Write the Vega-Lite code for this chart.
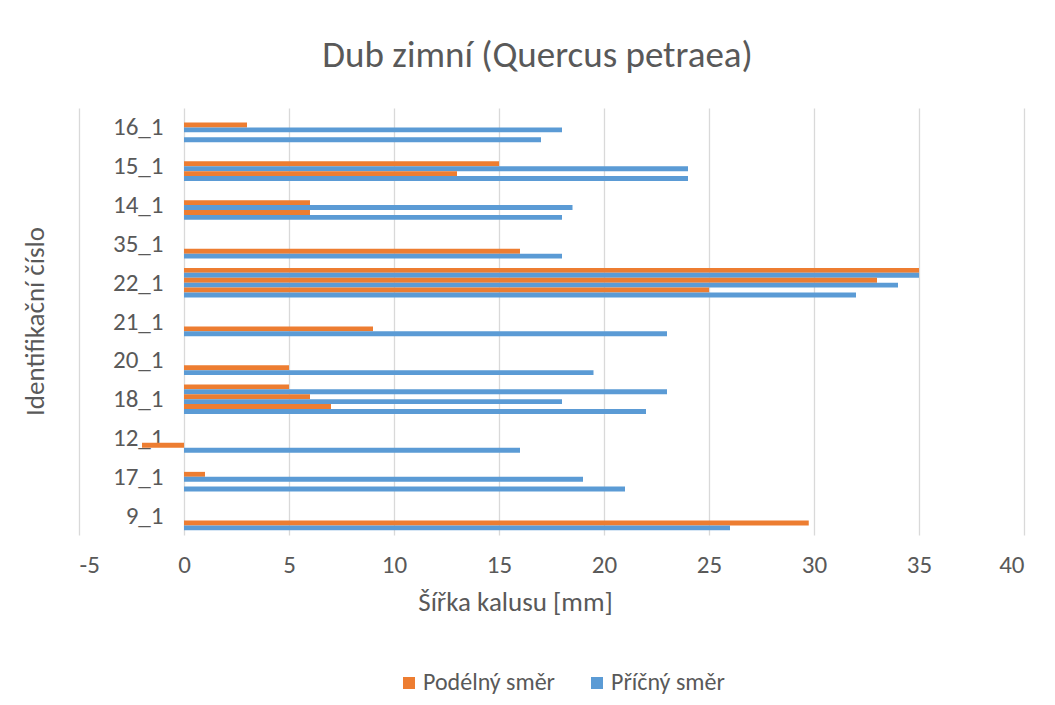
{
  "$schema": "https://vega.github.io/schema/vega-lite/v6.json",
  "autosize": "none",
  "width": 945,
  "height": 427,
  "padding": {"left": 79, "top": 108, "right": 31, "bottom": 170},
  "background": "white",
  "title": {
    "text": "Dub zimní (Quercus petraea)",
    "fontSize": 37,
    "font": "Carlito, Lato, sans-serif",
    "fontWeight": "normal",
    "color": "#595959",
    "anchor": "middle",
    "baseline": "alphabetic",
    "offset": 4,
    "dx": -14
  },
  "data": {
    "values": [
      {"id": "16_1", "smer": "Podélný směr", "slot": 3, "sirka": 3},
      {"id": "16_1", "smer": "Příčný směr", "slot": 4, "sirka": 18},
      {"id": "16_1", "smer": "Příčný směr", "slot": 6, "sirka": 17},
      {"id": "15_1", "smer": "Podélný směr", "slot": 3, "sirka": 15},
      {"id": "15_1", "smer": "Příčný směr", "slot": 4, "sirka": 24},
      {"id": "15_1", "smer": "Podélný směr", "slot": 5, "sirka": 13},
      {"id": "15_1", "smer": "Příčný směr", "slot": 6, "sirka": 24},
      {"id": "14_1", "smer": "Podélný směr", "slot": 3, "sirka": 6},
      {"id": "14_1", "smer": "Příčný směr", "slot": 4, "sirka": 18.5},
      {"id": "14_1", "smer": "Podélný směr", "slot": 5, "sirka": 6},
      {"id": "14_1", "smer": "Příčný směr", "slot": 6, "sirka": 18},
      {"id": "35_1", "smer": "Podélný směr", "slot": 5, "sirka": 16},
      {"id": "35_1", "smer": "Příčný směr", "slot": 6, "sirka": 18},
      {"id": "22_1", "smer": "Podélný směr", "slot": 1, "sirka": 35},
      {"id": "22_1", "smer": "Příčný směr", "slot": 2, "sirka": 35},
      {"id": "22_1", "smer": "Podélný směr", "slot": 3, "sirka": 33},
      {"id": "22_1", "smer": "Příčný směr", "slot": 4, "sirka": 34},
      {"id": "22_1", "smer": "Podélný směr", "slot": 5, "sirka": 25},
      {"id": "22_1", "smer": "Příčný směr", "slot": 6, "sirka": 32},
      {"id": "21_1", "smer": "Podélný směr", "slot": 5, "sirka": 9},
      {"id": "21_1", "smer": "Příčný směr", "slot": 6, "sirka": 23},
      {"id": "20_1", "smer": "Podélný směr", "slot": 5, "sirka": 5},
      {"id": "20_1", "smer": "Příčný směr", "slot": 6, "sirka": 19.5},
      {"id": "18_1", "smer": "Podélný směr", "slot": 1, "sirka": 5},
      {"id": "18_1", "smer": "Příčný směr", "slot": 2, "sirka": 23},
      {"id": "18_1", "smer": "Podélný směr", "slot": 3, "sirka": 6},
      {"id": "18_1", "smer": "Příčný směr", "slot": 4, "sirka": 18},
      {"id": "18_1", "smer": "Podélný směr", "slot": 5, "sirka": 7},
      {"id": "18_1", "smer": "Příčný směr", "slot": 6, "sirka": 22},
      {"id": "12_1", "smer": "Podélný směr", "slot": 5, "sirka": -2},
      {"id": "12_1", "smer": "Příčný směr", "slot": 6, "sirka": 16},
      {"id": "17_1", "smer": "Podélný směr", "slot": 3, "sirka": 1},
      {"id": "17_1", "smer": "Příčný směr", "slot": 4, "sirka": 19},
      {"id": "17_1", "smer": "Příčný směr", "slot": 6, "sirka": 21},
      {"id": "9_1", "smer": "Podélný směr", "slot": 5, "sirka": 29.75},
      {"id": "9_1", "smer": "Příčný směr", "slot": 6, "sirka": 26}
    ]
  },
  "mark": {"type": "bar"},
  "encoding": {
    "y": {
      "field": "id",
      "type": "nominal",
      "scale": {
        "domain": ["16_1", "15_1", "14_1", "35_1", "22_1", "21_1", "20_1", "18_1", "12_1", "17_1", "9_1"],
        "paddingInner": 0.24,
        "paddingOuter": 0.12
      },
      "axis": {
        "title": "Identifikační číslo",
        "offset": -105,
        "domain": false,
        "ticks": false,
        "grid": false,
        "labelPadding": 21,
        "labelFontSize": 25,
        "labelFont": "Carlito, Lato, sans-serif",
        "labelColor": "#595959",
        "titleFont": "Carlito, Lato, sans-serif",
        "titleFontSize": 27,
        "titleFontWeight": "normal",
        "titleColor": "#595959",
        "titleX": -149,
        "titleY": 213,
        "titleAngle": -90,
        "titleBaseline": "middle",
        "titleAlign": "center"
      }
    },
    "yOffset": {
      "field": "slot",
      "type": "ordinal",
      "scale": {"domain": [1, 2, 3, 4, 5, 6], "paddingInner": 0, "paddingOuter": 0}
    },
    "x": {
      "field": "sirka",
      "type": "quantitative",
      "scale": {"domain": [-5, 40], "nice": false, "zero": false},
      "axis": {
        "title": "Šířka kalusu [mm]",
        "values": [-5, 0, 5, 10, 15, 20, 25, 30, 35, 40],
        "labelExpr": "replace(datum.label, '−', '-')",
        "domain": false,
        "ticks": false,
        "grid": true,
        "gridColor": "#d9d9d9",
        "gridWidth": 1.3,
        "labelPadding": 17,
        "labelFontSize": 25,
        "labelFont": "Carlito, Lato, sans-serif",
        "labelColor": "#595959",
        "titleFont": "Carlito, Lato, sans-serif",
        "titleFontSize": 27,
        "titleFontWeight": "normal",
        "titleColor": "#595959",
        "titlePadding": 12,
        "titleX": 436,
        "titleAlign": "center"
      }
    },
    "color": {
      "field": "smer",
      "type": "nominal",
      "scale": {"domain": ["Podélný směr", "Příčný směr"], "range": ["#ED7D31", "#5B9BD5"]},
      "legend": {
        "title": null,
        "orient": "none",
        "legendX": 318,
        "legendY": 563,
        "direction": "horizontal",
        "symbolType": "square",
        "symbolSize": 144,
        "symbolStrokeWidth": 0,
        "labelFontSize": 24,
        "labelFont": "Carlito, Lato, sans-serif",
        "labelColor": "#595959",
        "labelOffset": 2,
        "columnPadding": 30
      }
    }
  },
  "config": {
    "view": {"stroke": null}
  }
}
